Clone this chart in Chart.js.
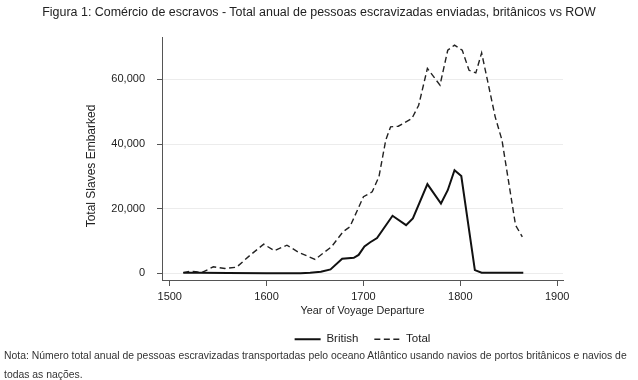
<!DOCTYPE html>
<html>
<head>
<meta charset="utf-8">
<script src="https://cdn.jsdelivr.net/npm/chart.js@4"></script>
<style>
  html, body { margin: 0; padding: 0; background: #fff; }
  #wrap { position: relative; width: 638px; height: 380px; background: #fff; overflow: hidden; }
  #title { position: absolute; left: 0; top: 5px; width: 638px; text-align: center;
           font: 12.45px "Liberation Sans", Arial, sans-serif; color: #222; line-height: 14px; white-space: nowrap; }
  #chartBox { position: absolute; left: 0; top: 0; width: 638px; height: 380px; }
  #note { position: absolute; left: 4px; top: 346px; font: 10.4px "Liberation Sans", Arial, sans-serif;
          color: #333; line-height: 19px; white-space: nowrap; }
</style>
</head>
<body>
<div id="wrap">
  <div id="chartBox"><canvas id="c" width="638" height="380"></canvas></div>
  <div id="title"></div>
  <div id="note"></div>
</div>
<script>
const titleText = "Figura 1: Comércio de escravos - Total anual de pessoas escravizadas enviadas, britânicos vs ROW";
const noteLines = ["Nota: Número total anual de pessoas escravizadas transportadas pelo oceano Atlântico usando navios de portos britânicos e navios de",
                   "todas as nações."];
const xAxisTitle = "Year of Voyage Departure";
const yAxisTitle = "Total Slaves Embarked";
const seriesNames = ["British", "Total"];

const britishYears  = [1514, 1530, 1560, 1600, 1635, 1645, 1656, 1666, 1678, 1690, 1695, 1701, 1707, 1714, 1730, 1744, 1751, 1766, 1780, 1787, 1794, 1801, 1815, 1822, 1840, 1865];
const britishValues = [200, 200, 100, 0, 0, 200, 500, 1200, 4500, 4800, 5700, 8300, 9600, 10900, 17800, 14900, 17000, 27600, 21600, 25700, 31900, 30100, 1000, 200, 200, 200];

const totalYears  = [1514, 1521, 1527, 1533, 1545, 1557, 1569, 1583, 1597, 1608, 1621, 1633, 1650, 1667, 1679, 1686, 1700, 1709, 1716, 1723, 1728, 1736, 1750, 1757, 1766, 1779, 1787, 1794, 1802, 1809, 1816, 1822, 1836, 1843, 1857, 1864];
const totalValues = [200, 600, 500, 200, 2000, 1500, 1900, 5600, 9000, 7000, 8700, 6500, 4300, 8200, 12900, 14400, 23700, 25200, 29900, 41200, 45300, 45500, 47900, 52000, 63400, 58200, 69000, 70600, 69000, 62800, 62000, 68200, 48400, 41200, 14900, 11300];

const xTicks = [1500, 1600, 1700, 1800, 1900];
const yTicks = [0, 20000, 40000, 60000];

document.getElementById('title').textContent = titleText;
document.getElementById('note').innerHTML = noteLines.map(s => s.replace(/&/g,'&amp;').replace(/</g,'&lt;')).join('<br>');

const FONT = "'Liberation Sans', Arial, sans-serif";
const toXY = (xs, ys) => xs.map((x, i) => ({ x: x, y: ys[i] }));

// y-axis title drawn centred at the reference position
const yTitlePlugin = {
  id: 'yTitle',
  afterDraw(chart) {
    const ctx = chart.ctx;
    ctx.save();
    ctx.translate(92, 166);
    ctx.rotate(-Math.PI / 2);
    ctx.font = "12px " + FONT;
    ctx.fillStyle = '#222';
    ctx.textAlign = 'center';
    ctx.textBaseline = 'middle';
    ctx.fillText(yAxisTitle, 0, 0);
    ctx.restore();
  }
};

const chart = new Chart(document.getElementById('c'), {
  type: 'line',
  data: {
    datasets: [
      { label: seriesNames[0], data: toXY(britishYears, britishValues), borderColor: '#111', backgroundColor: '#111',
        borderWidth: 2, pointRadius: 0, tension: 0, fill: false },
      { label: seriesNames[1], data: toXY(totalYears, totalValues), borderColor: '#222', backgroundColor: '#222',
        borderWidth: 1.4, borderDash: [6, 3.5], pointRadius: 0, tension: 0, fill: false }
    ]
  },
  plugins: [yTitlePlugin],
  options: {
    responsive: false,
    animation: false,
    devicePixelRatio: 1,
    layout: { padding: { left: 0, right: 75, top: 37, bottom: 25 } },
    plugins: {
      title: { display: false },
      tooltip: { enabled: false },
      legend: {
        display: true, position: 'bottom', fullSize: false,
        labels: {
          usePointStyle: true, pointStyle: 'line', pointStyleWidth: 26, padding: 16,
          color: '#222', font: { family: FONT, size: 11.5 },
          generateLabels: (ch) => {
            const items = Chart.defaults.plugins.legend.labels.generateLabels(ch);
            items.forEach((it, i) => {
              const ds = ch.data.datasets[i];
              it.lineDash = ds.borderDash || [];
              it.lineWidth = ds.borderWidth;
              it.strokeStyle = ds.borderColor;
              it.fillStyle = ds.borderColor;
              it.pointStyle = 'line';
            });
            return items;
          }
        }
      }
    },
    scales: {
      x: {
        type: 'linear', min: 1492, max: 1906,
        afterBuildTicks: s => { s.ticks = xTicks.map(v => ({ value: v })); },
        afterFit: s => { s.height = 37.5; },
        grid: { display: true, drawOnChartArea: false, drawTicks: true, tickLength: 6, tickColor: '#555', tickWidth: 1 },
        border: { display: true, color: '#555', width: 1 },
        ticks: { padding: 4, color: '#222', font: { family: FONT, size: 11 }, callback: v => String(v), maxRotation: 0 },
        title: { display: true, text: xAxisTitle, color: '#222', font: { family: FONT, size: 10.8 }, padding: { top: 0, bottom: 0 } }
      },
      y: {
        type: 'linear', min: -2070, max: 73100,
        afterBuildTicks: s => { s.ticks = yTicks.map(v => ({ value: v })); },
        afterFit: s => { s.width = 162; },
        grid: { display: true, drawOnChartArea: true, color: '#ececec', lineWidth: 1, drawTicks: true, tickLength: 5, tickColor: '#555', tickWidth: 1 },
        border: { display: true, color: '#555', width: 1 },
        ticks: { padding: 12, color: '#222', font: { family: FONT, size: 11 }, callback: v => v.toLocaleString('en-US') },
        title: { display: false, text: yAxisTitle }
      }
    }
  }
});
</script>
</body>
</html>
